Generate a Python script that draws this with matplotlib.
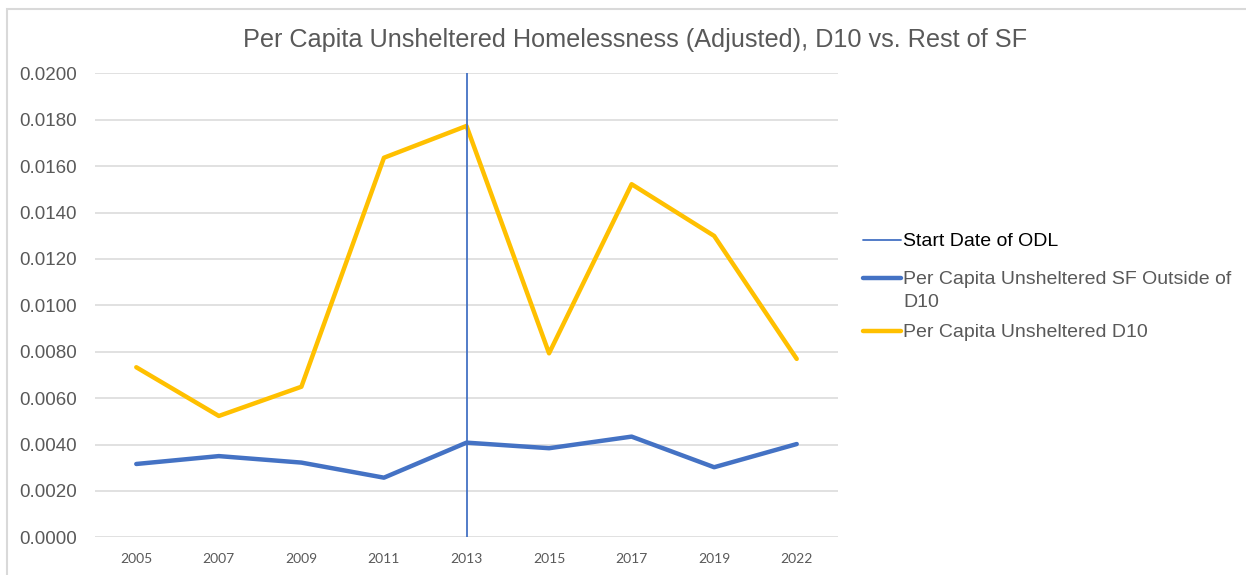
import matplotlib
matplotlib.use("Agg")
import matplotlib.pyplot as plt
from matplotlib.lines import Line2D
from matplotlib.patches import Rectangle

# Survey years (categorical x axis)
years = ["2005", "2007", "2009", "2011", "2013", "2015", "2017", "2019", "2022"]

# Per capita unsheltered homelessness
sf_outside_d10 = [0.00316, 0.00350, 0.00322, 0.00257, 0.00408, 0.00384, 0.00434, 0.00302, 0.00402]
d10 = [0.00733, 0.00523, 0.00649, 0.01636, 0.01773, 0.00793, 0.01522, 0.01299, 0.00769]

odl_start_year = "2013"
y_ticks = [0.0, 0.002, 0.004, 0.006, 0.008, 0.010, 0.012, 0.014, 0.016, 0.018, 0.020]

title = "Per Capita Unsheltered Homelessness (Adjusted), D10 vs. Rest of SF"
legend_labels = ["Start Date of ODL",
                 "Per Capita Unsheltered SF Outside of\nD10",
                 "Per Capita Unsheltered D10"]

BLUE = "#4472C4"
GOLD = "#FFC000"
GRID = "#D9D9D9"
TEXT = "#595959"

W, H = 1246, 575
fig = plt.figure(figsize=(W / 100, H / 100), dpi=100)
fig.patch.set_facecolor("white")

# Chart-area frame
fig.patches.append(Rectangle((6.5 / W, -0.1), 1.2, 1 - 8.5 / H + 0.1,
                             transform=fig.transFigure, fill=False,
                             edgecolor=GRID, linewidth=1.5))

ax = fig.add_axes([95 / W, 1 - 537.3 / H, (838 - 95) / W, (537.3 - 73.3) / H])
x = list(range(len(years)))

ax.plot(x, sf_outside_d10, color=BLUE, linewidth=3.2, solid_capstyle="round", zorder=3)
ax.plot(x, d10, color=GOLD, linewidth=3.2, solid_capstyle="round", zorder=3)
ax.axvline(years.index(odl_start_year), color=BLUE, linewidth=1.3, zorder=4)

ax.set_xlim(-0.5, len(years) - 0.5)
ax.set_ylim(0, 0.02)
ax.set_yticks(y_ticks)
ax.set_yticklabels([f"{v:.4f}" for v in y_ticks])
ax.set_xticks(x)
ax.set_xticklabels(years)

ax.grid(axis="y", color=GRID, linewidth=1.1)
ax.set_axisbelow(True)
for s in ax.spines.values():
    s.set_visible(False)
ax.tick_params(axis="both", length=0)
ax.tick_params(axis="y", pad=13, labelsize=13.5, labelcolor=TEXT)
ax.tick_params(axis="x", pad=11, labelsize=10, labelcolor=TEXT)
for lbl in ax.get_yticklabels():
    lbl.set_fontfamily("Liberation Sans")
for lbl in ax.get_xticklabels():
    lbl.set_fontfamily("Lato")

fig.text(635 / W, 1 - 40 / H, title, ha="center", va="center",
         fontsize=18.2, color=TEXT, family="Liberation Sans")

# Legend
leg_items = [
    (240, BLUE, 1.3, "black", legend_labels[0]),
    (278, BLUE, 3.2, TEXT, legend_labels[1]),
    (331, GOLD, 3.2, TEXT, legend_labels[2]),
]
for ypix, col, lw, tcol, label in leg_items:
    yf = 1 - ypix / H
    fig.add_artist(Line2D([863 / W, 901 / W], [yf, yf], transform=fig.transFigure,
                          color=col, linewidth=lw, solid_capstyle="round"))
    fig.text(903 / W, yf + 7 / H, label, ha="left", va="top", fontsize=14,
             color=tcol, family="Liberation Sans", linespacing=1.45)

fig.savefig("out.png", dpi=100)
